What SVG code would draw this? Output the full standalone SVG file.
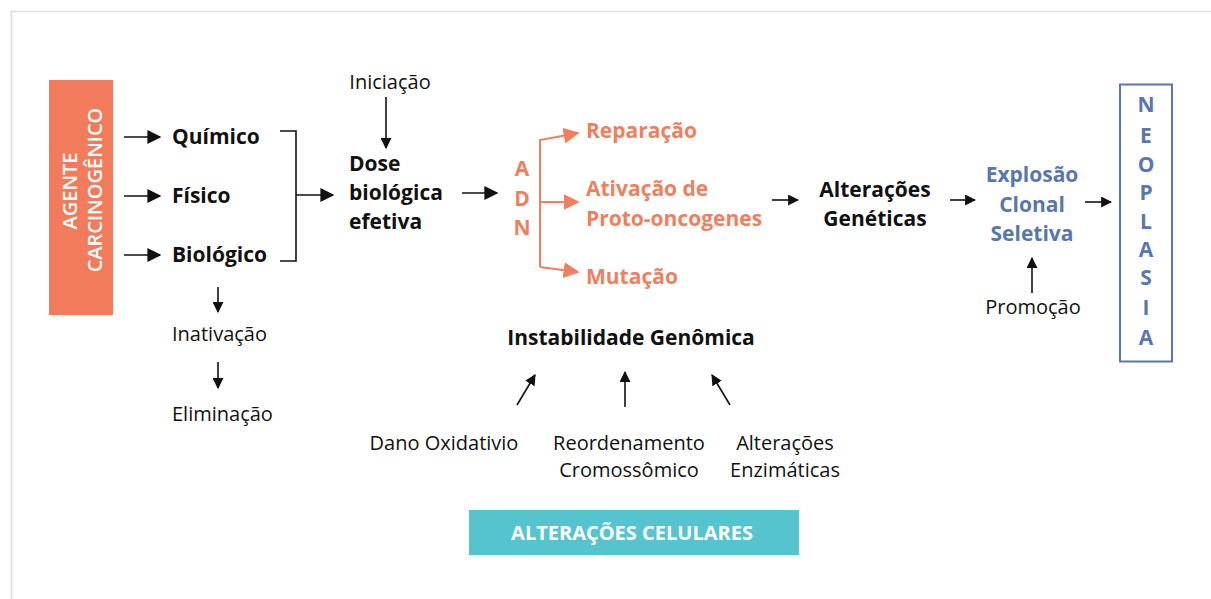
<svg xmlns="http://www.w3.org/2000/svg" width="1211" height="599" viewBox="0 0 1211 599">
<defs>
<style>
text{font-family:"Open Sans","Noto Sans","Liberation Sans",sans-serif;}
.b{font-weight:700;font-size:21px;fill:#111;}
.n{font-weight:400;font-size:20px;fill:#111;}
.o{font-weight:700;font-size:21px;fill:#F07F5E;}
.bl{font-weight:700;font-size:21px;fill:#5A76AE;}
.c{text-anchor:middle;}
.k{stroke:#111;stroke-width:1.6;fill:none;}
.ok{stroke:#F07F5E;stroke-width:2;fill:none;}
</style>
<marker id="ahb" viewBox="0 0 10 10" refX="9" refY="5" markerWidth="14" markerHeight="14" orient="auto" markerUnits="userSpaceOnUse">
<path d="M0,0 L10,5 L0,10 z" fill="#111"/>
</marker>
<marker id="aho" viewBox="0 0 10 10" refX="9" refY="5" markerWidth="16" markerHeight="16" orient="auto" markerUnits="userSpaceOnUse">
<path d="M0,0 L10,5 L0,10 z" fill="#F07F5E"/>
</marker>
<marker id="ahs" viewBox="0 0 10 10" refX="9" refY="5" markerWidth="11" markerHeight="11" orient="auto" markerUnits="userSpaceOnUse">
<path d="M0,0 L10,5 L0,10 z" fill="#111"/>
</marker>
</defs>
<rect width="1211" height="599" fill="#fff"/>
<path d="M11.5,599 V11.5 H1211" stroke="#dcdcdc" stroke-width="1.6" fill="none"/>

<g id="agente">
<rect x="49" y="80" width="64" height="235" fill="#F27B5B"/>
<text transform="translate(77,191) rotate(-90)" class="c" style="font-weight:600;font-size:20px;fill:#fff">AGENTE</text>
<text transform="translate(102,190) rotate(-90)" class="c" style="font-weight:600;font-size:20px;fill:#fff">CARCINOGÊNICO</text>
</g>
<g id="quimico"><text x="172" y="144" class="b">Químico</text></g>
<g id="fisico"><text x="172" y="203" class="b">Físico</text></g>
<g id="biologico"><text x="172" y="262" class="b">Biológico</text></g>
<g id="inativacao"><text x="172" y="341" class="n">Inativação</text></g>
<g id="eliminacao"><text x="172" y="421" class="n">Eliminação</text></g>
<g id="iniciacao"><text x="390" y="89" class="n c">Iniciação</text></g>
<g id="dose">
<text x="349" y="171" class="b">Dose</text>
<text x="349" y="200" class="b">biológica</text>
<text x="349" y="229" class="b">efetiva</text>
</g>
<g id="adn">
<text x="522" y="176" class="o c">A</text>
<text x="522" y="206" class="o c">D</text>
<text x="522" y="235" class="o c">N</text>
</g>
<g id="reparacao"><text x="586" y="138" class="o">Reparação</text></g>
<g id="ativacao">
<text x="586" y="196" class="o">Ativação de</text>
<text x="586" y="226" class="o">Proto-oncogenes</text>
</g>
<g id="mutacao"><text x="586" y="284" class="o">Mutação</text></g>
<g id="alteracoes-geneticas">
<text x="875" y="197" class="b c">Alterações</text>
<text x="875" y="226" class="b c">Genéticas</text>
</g>
<g id="explosao">
<text x="1032" y="182" class="bl c">Explosão</text>
<text x="1032" y="212" class="bl c">Clonal</text>
<text x="1032" y="241" class="bl c">Seletiva</text>
</g>
<g id="promocao"><text x="1033" y="314" class="n c">Promoção</text></g>
<g id="neoplasia">
<rect x="1120" y="84.5" width="52" height="277" fill="none" stroke="#5A76AE" stroke-width="2"/>
<text x="1146" y="112" class="bl c">N</text>
<text x="1146" y="143" class="bl c">E</text>
<text x="1146" y="172" class="bl c">O</text>
<text x="1146" y="200" class="bl c">P</text>
<text x="1146" y="229" class="bl c">L</text>
<text x="1146" y="257" class="bl c">A</text>
<text x="1146" y="285" class="bl c">S</text>
<text x="1146" y="315" class="bl c">I</text>
<text x="1146" y="345" class="bl c">A</text>
</g>
<g id="instabilidade"><text x="631" y="345" class="b c">Instabilidade Genômica</text></g>
<g id="dano"><text x="444" y="450" class="n c">Dano Oxidativio</text></g>
<g id="reordenamento">
<text x="629" y="450" class="n c">Reordenamento</text>
<text x="629" y="477" class="n c">Cromossômico</text>
</g>
<g id="alteracoes-enzimaticas">
<text x="785" y="450" class="n c">Alterações</text>
<text x="785" y="477" class="n c">Enzimáticas</text>
</g>
<g id="alteracoes-celulares">
<rect x="469" y="510" width="330" height="45" fill="#56C4CE"/>
<text x="632" y="540" class="c" style="font-weight:700;font-size:20px;fill:#fff">ALTERAÇÕES CELULARES</text>
</g>

<g id="connectors">
<line x1="124" y1="137" x2="160" y2="137" class="k" marker-end="url(#ahb)"/>
<line x1="124" y1="196" x2="160" y2="196" class="k" marker-end="url(#ahb)"/>
<line x1="124" y1="255" x2="160" y2="255" class="k" marker-end="url(#ahb)"/>
<path d="M280,131 H296 V261 H280" class="k"/>
<line x1="296" y1="195" x2="333" y2="195" class="k" marker-end="url(#ahb)"/>
<line x1="386" y1="97" x2="386" y2="148" class="k" marker-end="url(#ahs)"/>
<line x1="462" y1="193" x2="497" y2="193" class="k" marker-end="url(#ahb)"/>
<path d="M540,267 V140 L578,133" class="ok" marker-end="url(#aho)"/>
<path d="M540,267 L578,272" class="ok" marker-end="url(#aho)"/>
<line x1="540" y1="202" x2="578" y2="202" class="ok" marker-end="url(#aho)"/>
<line x1="772" y1="200" x2="798" y2="200" class="k" marker-end="url(#ahs)"/>
<line x1="950" y1="200" x2="975" y2="200" class="k" marker-end="url(#ahs)"/>
<line x1="1085" y1="202" x2="1111" y2="202" class="k" marker-end="url(#ahs)"/>
<line x1="1032" y1="293" x2="1032" y2="258" class="k" marker-end="url(#ahs)"/>
<line x1="218" y1="287" x2="218" y2="312" class="k" marker-end="url(#ahs)"/>
<line x1="218" y1="362" x2="218" y2="388" class="k" marker-end="url(#ahs)"/>
<line x1="517" y1="405" x2="535" y2="375" class="k" marker-end="url(#ahs)"/>
<line x1="625" y1="407" x2="625" y2="372" class="k" marker-end="url(#ahs)"/>
<line x1="730" y1="405" x2="712" y2="375" class="k" marker-end="url(#ahs)"/>
</g>
</svg>
